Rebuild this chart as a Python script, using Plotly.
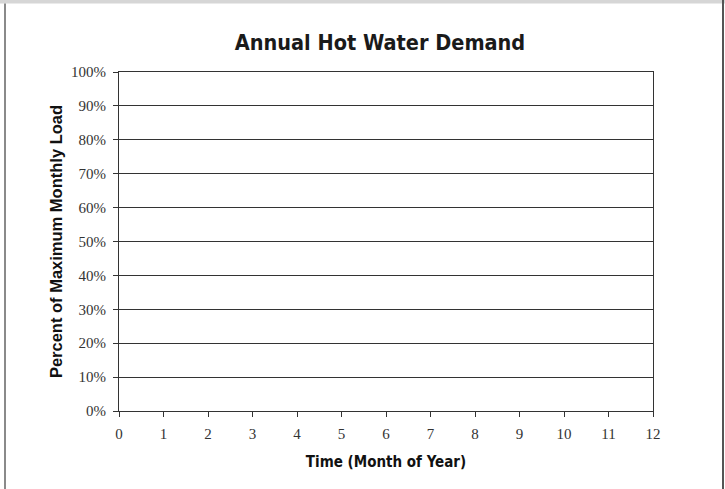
import plotly.graph_objects as go

# Data (chart is empty: no series values plotted)
months = list(range(0, 13))
month_labels = [str(m) for m in months]
percent_ticks = [0, 10, 20, 30, 40, 50, 60, 70, 80, 90, 100]
percent_labels = [f"{p}%" for p in percent_ticks]
demand_months = []
demand_values = []

W, H = 725, 489
L, R, T, B = 119, 653, 72, 411

fig = go.Figure()
fig.add_trace(go.Scatter(x=demand_months, y=demand_values, mode="lines",
                         line=dict(color="#000080"), showlegend=False))

tick_font = dict(family="Liberation Serif, Times New Roman, serif", size=15, color="#333333")
title_font = dict(family="DejaVu Sans Condensed, DejaVu Sans, sans-serif", size=15, color="#111111")

fig.update_layout(
    width=W, height=H,
    margin=dict(l=L, r=W - R, t=T, b=H - B, pad=0),
    paper_bgcolor="white", plot_bgcolor="white",
    title=dict(text="<b>Annual Hot Water Demand</b>", x=380 / W, xanchor="center",
               xref="container", y=1 - 42 / H, yanchor="middle", yref="container",
               font=dict(family="DejaVu Sans Condensed, DejaVu Sans, sans-serif", size=21.5, color="#1a1a1a")),
    showlegend=False,
)
fig.update_xaxes(
    range=[0, 12], tickvals=months, ticktext=month_labels,
    showgrid=False, zeroline=False,
    showline=True, linecolor="#333333", linewidth=1, mirror=True,
    ticks="outside", ticklen=5, tickcolor="#333333", tickwidth=1,
    tickfont=tick_font, ticklabelstandoff=4,
    title=dict(text="<b>Time (Month of Year)</b>", font=title_font, standoff=15),
)
fig.update_yaxes(
    range=[0, 100], tickvals=percent_ticks, ticktext=percent_labels,
    showgrid=True, gridcolor="#333333", gridwidth=1, zeroline=False,
    showline=True, linecolor="#333333", linewidth=1, mirror=True,
    ticks="outside", ticklen=5, tickcolor="#333333", tickwidth=1,
    tickfont=tick_font, ticklabelstandoff=4,
    title=dict(text="<b>Percent of Maximum Monthly Load</b>",
               font=dict(family="Liberation Sans, Arial, sans-serif", size=16.5, color="#111111"),
               standoff=4),
)

def px_x(px):
    return (px - L) / (R - L)

def px_y(py):
    return (B - py) / (B - T)

# Frame around the page (screenshot border)
fig.add_shape(type="rect", xref="paper", yref="paper",
              x0=px_x(0), x1=px_x(W), y0=px_y(3.5), y1=px_y(0),
              fillcolor="#d6d6d6", line=dict(width=0), layer="above")
fig.add_shape(type="line", xref="paper", yref="paper",
              x0=px_x(5), x1=px_x(5), y0=px_y(3.5), y1=px_y(H),
              line=dict(color="#8a8a8a", width=2))
fig.add_shape(type="line", xref="paper", yref="paper",
              x0=px_x(723), x1=px_x(723), y0=px_y(0), y1=px_y(H),
              line=dict(color="#555555", width=2))

fig.write_html("out.html", config={"displayModeBar": False},
               post_script="document.body.style.margin='0';document.body.style.padding='0';")
